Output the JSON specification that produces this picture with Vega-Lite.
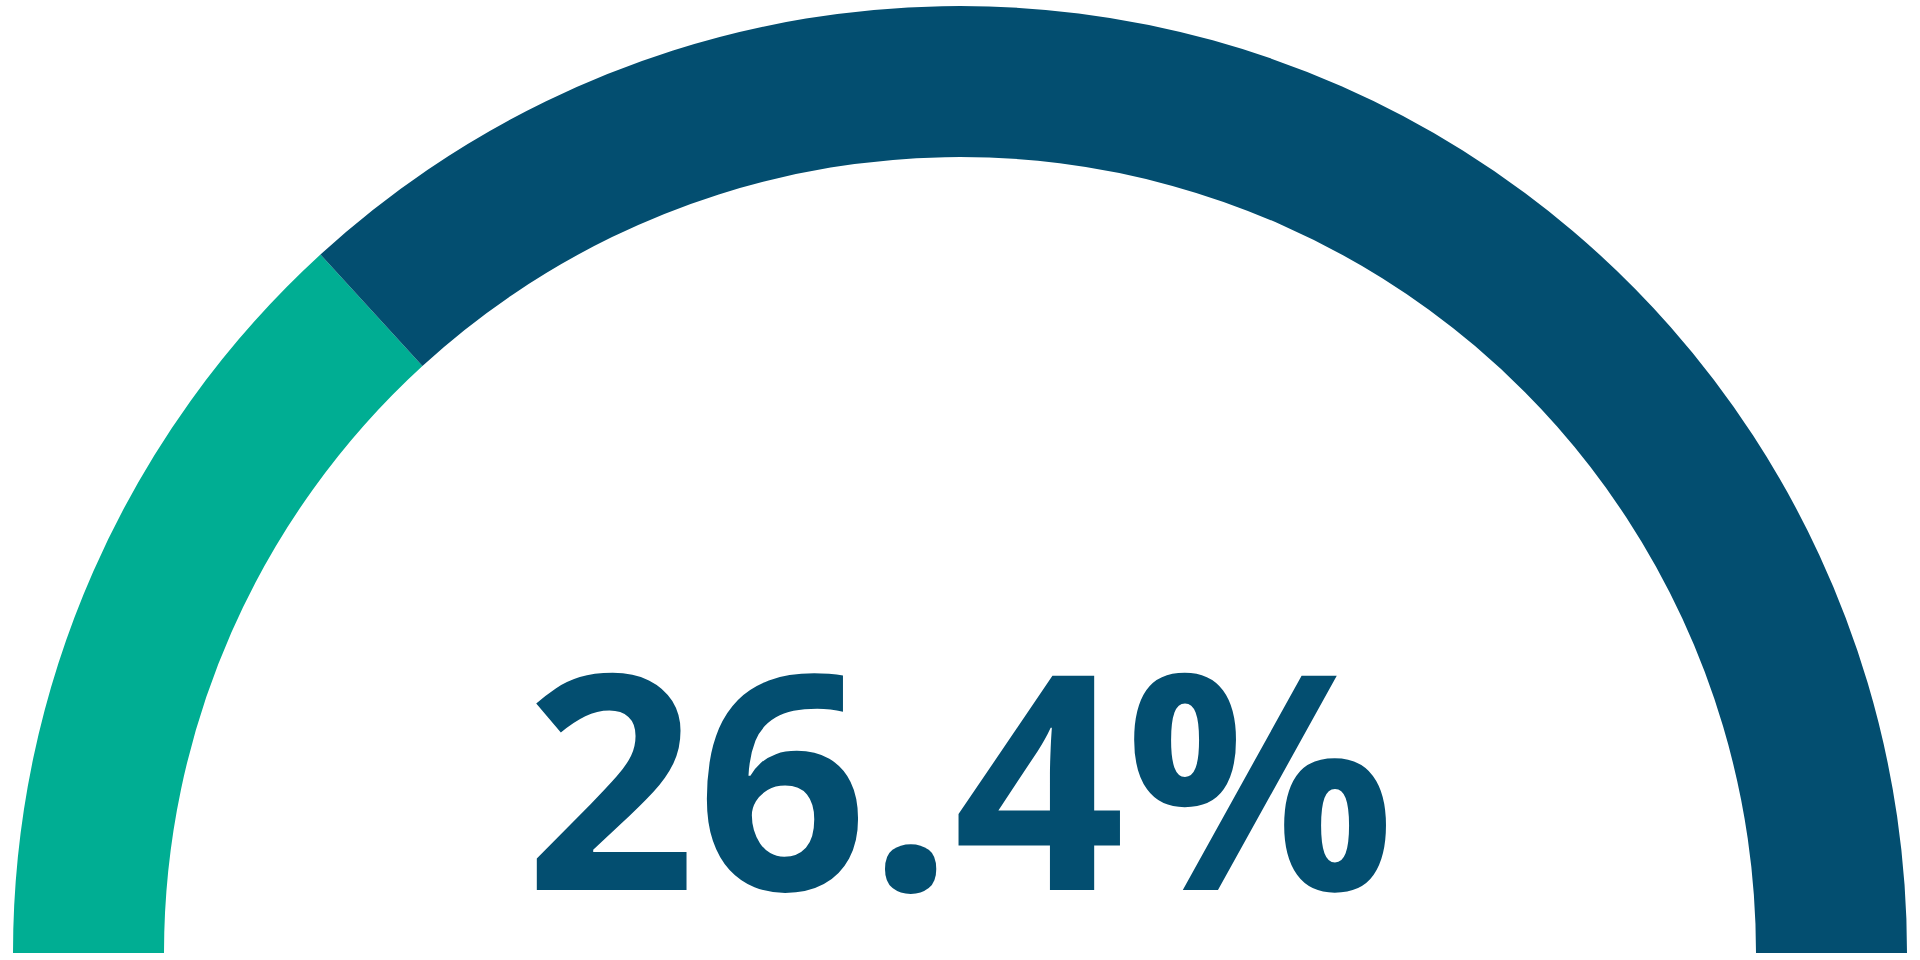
{
  "$schema": "https://vega.github.io/schema/vega-lite/v6.json",
  "description": "Half-donut gauge showing 26.4% filled.",
  "width": 1920,
  "height": 960,
  "autosize": {"type": "fit", "contains": "padding"},
  "padding": {"left": 0, "right": 0, "top": 0, "bottom": 7},
  "background": "white",
  "view": {"stroke": null},
  "data": {
    "values": [
      {"segment": "filled", "rank": 1, "value": 0.264},
      {"segment": "remaining", "rank": 2, "value": 0.736}
    ]
  },
  "layer": [
    {
      "mark": {
        "type": "arc",
        "x": {"expr": "width / 2"},
        "y": {"expr": "height"},
        "outerRadius": 947,
        "innerRadius": 796
      },
      "encoding": {
        "theta": {
          "field": "value",
          "type": "quantitative",
          "stack": true,
          "scale": {"range": [{"expr": "-PI / 2"}, {"expr": "PI / 2"}]}
        },
        "order": {"field": "rank", "type": "quantitative"},
        "color": {
          "field": "segment",
          "type": "nominal",
          "scale": {"domain": ["filled", "remaining"], "range": ["#00AE93", "#034E70"]},
          "legend": null
        }
      }
    },
    {
      "transform": [{"filter": "datum.segment === 'filled'"}],
      "mark": {
        "type": "text",
        "x": {"expr": "width / 2"},
        "y": {"expr": "height - 63"},
        "align": "center",
        "baseline": "alphabetic",
        "font": "Open Sans",
        "fontWeight": "bold",
        "fontSize": 300,
        "color": "#034E70"
      },
      "encoding": {
        "text": {"field": "value", "type": "quantitative", "format": ".1%"}
      }
    }
  ]
}
